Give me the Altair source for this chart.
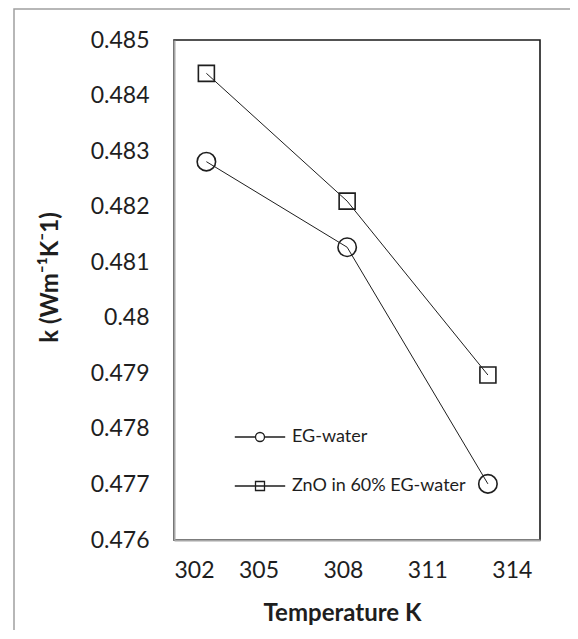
import altair as alt
import pandas as pd

# ---- data ----
temps = [303.15, 308.15, 313.15]
eg_water = [0.48281, 0.48127, 0.47701]
zno_eg_water = [0.48440, 0.48210, 0.47897]
series_names = ["EG-water", "ZnO in 60% EG-water"]
x_ticks = [302, 305, 308, 311, 314]
y_ticks = [0.476, 0.477, 0.478, 0.479, 0.480, 0.481, 0.482, 0.483, 0.484, 0.485]

rows = []
for t, v in zip(temps, eg_water):
    rows.append({"T": t, "k": v, "series": series_names[0]})
for t, v in zip(temps, zno_eg_water):
    rows.append({"T": t, "k": v, "series": series_names[1]})
df = pd.DataFrame(rows)

FONT = "Lato"
INK = "#1e1e1e"

x_enc = alt.X(
    "T:Q",
    scale=alt.Scale(domain=[302, 315], nice=False, zero=False),
    axis=alt.Axis(values=x_ticks, title="Temperature K", labelPadding=19,
                  titleX=168, titleY=73, titleBaseline="middle"),
)
y_enc = alt.Y(
    "k:Q",
    scale=alt.Scale(domain=[0.476, 0.485], nice=False, zero=False),
    axis=alt.Axis(values=y_ticks, format=".3~f", title="k (Wm\u207b\u00b9K\u207b1)",
                  labelPadding=25, titleX=-124, titleY=237, titleBaseline="middle",
                  titleAngle=270),
)

base = alt.Chart(df)

lines = base.mark_line(color=INK, strokeWidth=1).encode(
    x=x_enc, y=y_enc, detail="series:N"
)

points = base.mark_point(filled=False, color=INK, strokeWidth=1.6, opacity=1).encode(
    x=x_enc,
    y=y_enc,
    shape=alt.Shape("series:N", scale=alt.Scale(domain=series_names, range=["circle", "square"]), legend=None),
    size=alt.Size("series:N", scale=alt.Scale(domain=series_names, range=[340, 256]), legend=None),
)

path_circle = "M-5.6,0L-1,0M1,0L5.6,0M1,0A1,1,0,1,1,-1,0A1,1,0,1,1,1,0Z"
path_square = "M-5.6,0L5.6,0M-1,-1L1,-1L1,1L-1,1Z"

legend_layer = base.transform_filter("false").mark_point(filled=False, color=INK).encode(
    x=x_enc,
    y=y_enc,
    shape=alt.Shape(
        "series:N",
        scale=alt.Scale(domain=series_names, range=[path_circle, path_square]),
        legend=alt.Legend(
            title=None, orient="none", legendX=57, legendY=388,
            labelFont=FONT, labelFontSize=18, labelColor=INK, labelLimit=400,
            symbolSize=81, symbolOffset=20, labelOffset=23, rowPadding=31,
            symbolStrokeColor=INK, symbolFillColor="transparent",
            symbolStrokeWidth=1.3, symbolOpacity=1,
        ),
    ),
)

border = alt.Chart(pd.DataFrame({"b": [0]})).mark_rect(
    fill="transparent", stroke="#a0a0a0", strokeWidth=1.5
).encode(
    x=alt.value(-160), x2=alt.value(420), y=alt.value(-31), y2=alt.value(660)
)

chart = (
    alt.layer(border, lines, points, legend_layer)
    .resolve_scale(shape="independent")
    .properties(
        width=366, height=500,
        autosize=alt.AutoSizeParams(type="none"),
        padding={"left": 166, "top": 32, "right": 30, "bottom": 90},
        background="white",
    )
    .configure_view(stroke="#1a1a1a", strokeWidth=1.6)
    .configure_axis(
        labelFont=FONT, titleFont=FONT, labelFontSize=23, titleFontSize=24,
        titleFontWeight="bold", labelColor=INK, titleColor=INK,
        domainColor="#a6a6a6", domainWidth=2, ticks=False, grid=False,
    )
)

chart.save("out.html", embed_options={"renderer": "svg", "actions": False})
